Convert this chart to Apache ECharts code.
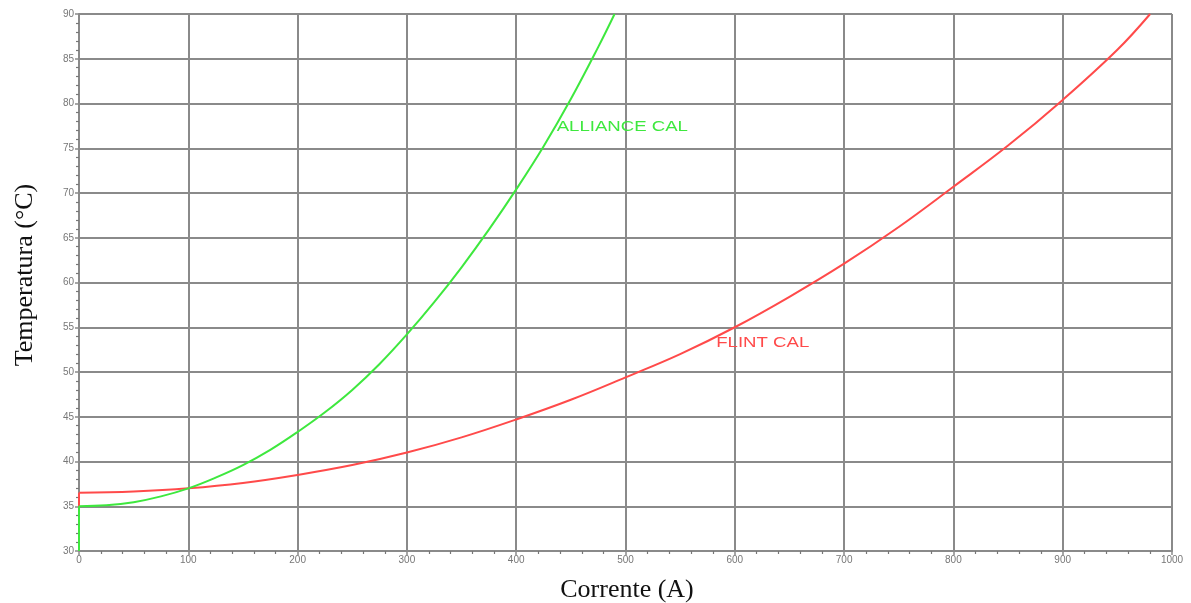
<!DOCTYPE html>
<html>
<head>
<meta charset="utf-8">
<script src="https://cdn.jsdelivr.net/npm/echarts@6/dist/echarts.min.js"></script>
<style>
html,body{margin:0;padding:0;background:#fff;}
#chart{width:1191px;height:603px;}
</style>
</head>
<body>
<div id="chart"></div>
<script>
// ALLIANCE CAL curve (Corrente A, Temperatura °C); first point is the vertical start at 0 A
const allianceCurrent = [0, 0, 25, 50, 75, 100, 125, 150, 175, 200, 225, 250, 275, 300, 325, 350, 375, 400, 425, 450, 475, 490];
const allianceTemp    = [30, 35, 35.1, 35.45, 36.1, 37.0, 38.2, 39.6, 41.3, 43.3, 45.5, 48.0, 50.9, 54.2, 57.8, 61.7, 65.9, 70.4, 75.2, 80.5, 86.3, 90.0];
// FLINT CAL curve; first point is the vertical start at 0 A
const flintCurrent = [0, 0, 50, 100, 150, 200, 250, 300, 350, 400, 450, 500, 550, 600, 650, 700, 750, 800, 850, 900, 950, 980];
const flintTemp    = [35, 36.5, 36.65, 37.0, 37.6, 38.5, 39.6, 41.0, 42.7, 44.7, 46.9, 49.4, 52.0, 55.0, 58.4, 62.1, 66.2, 70.7, 75.3, 80.4, 86.0, 90.0];
// curve labels and their anchor points (data coordinates)
const curveLabels = ['ALLIANCE CAL', 'FLINT CAL'];
const labelAnchors = [[437, 77.4], [583, 53.3]];
const labelColors = ['#3ee83e', '#ff4a4a'];
// axes
const xTitle = 'Corrente (A)';
const yTitle = 'Temperatura (°C)';
const xRange = [0, 1000, 100];
const yRange = [30, 90, 5];

const pairs = (xs, ys) => xs.map((x, i) => [x, ys[i]]);
const aPts = pairs(allianceCurrent, allianceTemp);
const fPts = pairs(flintCurrent, flintTemp);

const chart = echarts.init(document.getElementById('chart'), null, {renderer: 'canvas'});
const gridColor = '#8a8a8a';
const axisCommon = {
  type: 'value',
  axisLine: {show: true, lineStyle: {color: gridColor, width: 2}},
  axisTick: {show: true, length: 4, lineStyle: {color: gridColor, width: 1.5}},
  minorTick: {show: true, splitNumber: 5, length: 3, lineStyle: {color: '#777', width: 1.2}},
  splitLine: {show: true, lineStyle: {color: gridColor, width: 2}},
  axisLabel: {color: '#777', fontSize: 10, fontFamily: 'Liberation Sans', formatter: v => String(v)}
};
const lineBase = (color, z) => ({type: 'line', showSymbol: false, lineStyle: {color: color, width: 2}, z: z});
chart.setOption({
  animation: false,
  backgroundColor: '#fff',
  grid: {left: 79, right: 19, top: 14, bottom: 52, containLabel: false},
  xAxis: Object.assign({}, axisCommon, {
    min: xRange[0], max: xRange[1], interval: xRange[2],
    axisLabel: Object.assign({}, axisCommon.axisLabel, {margin: 4})
  }),
  yAxis: Object.assign({}, axisCommon, {
    min: yRange[0], max: yRange[1], interval: yRange[2],
    axisLabel: Object.assign({}, axisCommon.axisLabel, {margin: 5})
  }),
  series: [
    Object.assign(lineBase(labelColors[0], 3), {name: curveLabels[0], data: aPts.slice(0, 2)}),
    Object.assign(lineBase(labelColors[0], 3), {name: curveLabels[0], data: aPts.slice(1), smooth: 0.4}),
    Object.assign(lineBase(labelColors[1], 2), {name: curveLabels[1], data: fPts.slice(0, 2)}),
    Object.assign(lineBase(labelColors[1], 2), {name: curveLabels[1], data: fPts.slice(1), smooth: 0.4})
  ]
});

const graphics = curveLabels.map((txt, i) => {
  const p = chart.convertToPixel({gridIndex: 0}, labelAnchors[i]);
  return {
    type: 'text', x: p[0], y: p[1], scaleX: 1.24,
    style: {text: txt, fill: labelColors[i], font: '15px "Liberation Sans"', textAlign: 'left', textVerticalAlign: 'middle'}
  };
});
graphics.push({
  type: 'text', x: 627, y: 590,
  style: {text: xTitle, fill: '#111', font: '26px "Liberation Serif"', textAlign: 'center', textVerticalAlign: 'middle'}
});
graphics.push({
  type: 'text', x: 25, y: 275, rotation: Math.PI / 2,
  style: {text: yTitle, fill: '#111', font: '26px "Liberation Serif"', textAlign: 'center', textVerticalAlign: 'middle'}
});
chart.setOption({graphic: graphics});
</script>
</body>
</html>
